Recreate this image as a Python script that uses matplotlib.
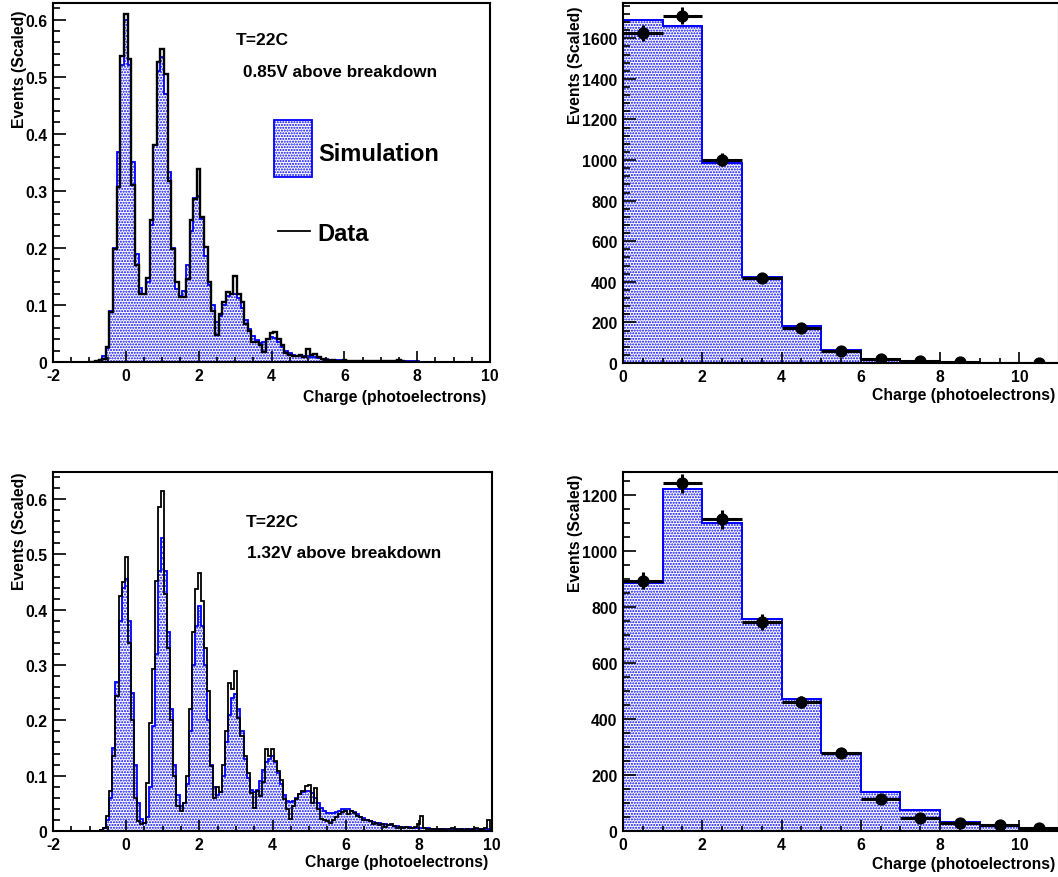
import numpy as np
import matplotlib
matplotlib.use('Agg')
import matplotlib.pyplot as plt
from matplotlib.patches import Rectangle
from matplotlib.lines import Line2D
from matplotlib.ticker import MultipleLocator, FuncFormatter

plt.rcParams['font.family'] = ['Liberation Sans', 'DejaVu Sans']
plt.rcParams['font.weight'] = 'bold'
plt.rcParams['axes.labelweight'] = 'bold'
plt.rcParams['axes.unicode_minus'] = False
plt.rcParams['hatch.color'] = 'blue'
plt.rcParams['hatch.linewidth'] = 1.0

###########################################################
# 0.85V spectrum, 0.1 pe bins, first bin centred on -1.0
###########################################################
start085, width085 = -1.0, 0.1
data085 = [0, 0, 0.001, 0.003, 0.006, 0.026, 0.087, 0.198, 0.306, 0.536,
           0.609, 0.531, 0.31, 0.17, 0.12, 0.12, 0.147, 0.248, 0.38, 0.525,
           0.548, 0.505, 0.318, 0.198, 0.14, 0.114, 0.114, 0.146, 0.248, 0.286,
           0.339, 0.254, 0.201, 0.14, 0.09, 0.047, 0.084, 0.105, 0.122, 0.12,
           0.151, 0.12, 0.105, 0.067, 0.055, 0.035, 0.035, 0.03, 0.017, 0.04,
           0.05, 0.052, 0.04, 0.03, 0.015, 0.013, 0.011, 0.01, 0.012, 0.009,
           0.022, 0.012, 0.014, 0.008, 0.006, 0.004, 0.004, 0.003, 0.002, 0.002,
           0.004, 0.001, 0.002, 0.001, 0.002, 0.001, 0.001, 0.002, 0.001, 0.001,
           0.001, 0.001, 0.002, 0.001, 0.001, 0.003, 0.001, 0, 0, 0,
           0]
sim085 = [0, 0, 0.002, 0.004, 0.01, 0.025, 0.09, 0.2, 0.368, 0.52,
          0.6, 0.52, 0.35, 0.19, 0.13, 0.12, 0.14, 0.24, 0.38, 0.51,
          0.535, 0.47, 0.333, 0.2, 0.128, 0.115, 0.125, 0.17, 0.23, 0.287,
          0.29, 0.25, 0.185, 0.135, 0.1, 0.07, 0.08, 0.1, 0.115, 0.12,
          0.12, 0.112, 0.095, 0.074, 0.058, 0.045, 0.038, 0.034, 0.035, 0.04,
          0.044, 0.042, 0.035, 0.026, 0.019, 0.015, 0.012, 0.011, 0.01, 0.01,
          0.01, 0.009, 0.008, 0.007, 0.006, 0.005, 0.004, 0.004, 0.003, 0.003,
          0.003, 0.002, 0.002, 0.002, 0.002, 0.002, 0.002, 0.002, 0.002, 0.002,
          0.001, 0.001, 0.001, 0.001, 0.001, 0.001, 0.001, 0.001, 0.001, 0.001,
          0.001]

###########################################################
# 1.32V spectrum, 1/12 pe bins, first bin centred on -8/12
###########################################################
start132, width132 = -8.0 / 12, 1.0 / 12
data132 = [0.001, 0.006,
           0.027, 0.073, 0.135, 0.244, 0.425, 0.45, 0.495, 0.34, 0.2, 0.06, 0.018, 0.012,
           0.015, 0.087, 0.196, 0.293, 0.452, 0.585, 0.615, 0.428, 0.33, 0.2, 0.1, 0.045,
           0.036, 0.05, 0.1, 0.22, 0.36, 0.437, 0.466, 0.416, 0.33, 0.253, 0.118, 0.06,
           0.08, 0.07, 0.12, 0.18, 0.268, 0.256, 0.289, 0.205, 0.172, 0.135, 0.105, 0.069,
           0.042, 0.072, 0.063, 0.088, 0.148, 0.135, 0.148, 0.127, 0.108, 0.093, 0.057, 0.04,
           0.022, 0.045, 0.057, 0.066, 0.072, 0.081, 0.084, 0.051, 0.078, 0.04, 0.022, 0.02,
           0.018, 0.015, 0.02, 0.025, 0.03, 0.035, 0.036, 0.03, 0.036, 0.033, 0.027, 0.025,
           0.02, 0.02, 0.018, 0.013, 0.015, 0.01, 0.012, 0.008, 0.01, 0.012, 0.009, 0.006,
           0.008, 0.006, 0.007, 0.005, 0.006, 0.008, 0.012, 0.028, 0.006, 0.004, 0.004, 0.003,
           0.002, 0.003, 0.004, 0.002, 0.003, 0.005, 0.003, 0.002, 0.004, 0.002, 0.003, 0.002,
           0.003, 0.005, 0.003, 0.004, 0.005, 0.02]
sim132 = [0.001, 0.006,
          0.02, 0.06, 0.15, 0.27, 0.38, 0.44, 0.455, 0.38, 0.25, 0.12, 0.05, 0.022,
          0.015, 0.025, 0.08, 0.19, 0.32, 0.47, 0.53, 0.47, 0.36, 0.22, 0.12, 0.065,
          0.045, 0.05, 0.085, 0.18, 0.3, 0.37, 0.407, 0.37, 0.3, 0.2, 0.12, 0.08,
          0.065, 0.07, 0.1, 0.16, 0.21, 0.24, 0.247, 0.22, 0.18, 0.13, 0.095, 0.075,
          0.07, 0.075, 0.09, 0.11, 0.125, 0.13, 0.136, 0.125, 0.105, 0.085, 0.065, 0.055,
          0.052, 0.055, 0.06, 0.066, 0.07, 0.073, 0.072, 0.068, 0.06, 0.05, 0.042, 0.036,
          0.033, 0.032, 0.033, 0.035, 0.037, 0.039, 0.04, 0.039, 0.037, 0.034, 0.03, 0.026,
          0.023, 0.02, 0.018, 0.016, 0.015, 0.014, 0.013, 0.012, 0.011, 0.01, 0.009, 0.009,
          0.008, 0.008, 0.007, 0.007, 0.006, 0.006, 0.006, 0.005, 0.005, 0.005, 0.004, 0.004,
          0.004, 0.004, 0.004, 0.004, 0.004, 0.004, 0.003, 0.003, 0.003, 0.003, 0.003, 0.003,
          0.003, 0.003, 0.003, 0.003, 0.003, 0.003]

###########################################################
# integrated photoelectron counts, 1 pe bins from 0 to 11
###########################################################
pe_edges = np.arange(0, 12)
simcnt085 = [1692, 1662, 984, 422, 184, 64, 20, 8, 3, 1, 0.5]
datcnt085 = [1626, 1712, 1002, 419, 172, 61, 20, 8, 3, 0, 1]
errcnt085 = [40, 41, 32, 20, 13, 8, 4.5, 3, 2, 0, 1]
simcnt132 = [888, 1222, 1100, 757, 473, 280, 139, 74, 32, 18, 12]
datcnt132 = [894, 1242, 1114, 747, 462, 280, 113, 48, 30, 20, 12]
errcnt132 = [30, 35, 33, 27, 21, 17, 11, 7, 5.5, 4.5, 3.5]

W, H = 1058, 878
fig = plt.figure(figsize=(W / 100., H / 100.), dpi=100)

def px_rect(l, t, r, b):
    return [l / W, 1 - b / H, (r - l) / W, (b - t) / H]

fmt = FuncFormatter(lambda v, p: '%g' % v)

def root_style(ax, xmaj, xmin, ymaj, ymin):
    ax.xaxis.set_major_locator(MultipleLocator(xmaj))
    ax.xaxis.set_minor_locator(MultipleLocator(xmin))
    ax.yaxis.set_major_locator(MultipleLocator(ymaj))
    ax.yaxis.set_minor_locator(MultipleLocator(ymin))
    ax.xaxis.set_major_formatter(fmt)
    ax.yaxis.set_major_formatter(fmt)
    ax.tick_params(which='both', direction='in', top=False, right=False, width=1.2, labelsize=11.3)
    ax.tick_params(axis='x', which='major', length=7.8, pad=4)
    ax.tick_params(axis='x', which='minor', length=3.9)
    ax.tick_params(axis='y', which='major', length=9.4, pad=4)
    ax.tick_params(axis='y', which='minor', length=4.7)
    for s in ax.spines.values():
        s.set_linewidth(1.5)

def spectrum(ax, start, width, sim, data, data_lw):
    edges = start - width / 2 + width * np.arange(len(sim) + 1)
    ax.stairs(sim, edges, fill=True, hatch='......', facecolor='white', edgecolor='blue', lw=0)
    ax.stairs(sim, edges, color='blue', lw=1.3)
    ax.stairs(data, edges, color='black', lw=data_lw)

def counts(ax, sim, data, err):
    ax.stairs(sim, pe_edges, fill=True, hatch='......', facecolor='white', edgecolor='blue', lw=0)
    ax.stairs(sim, pe_edges, color='blue', lw=1.4)
    centres = pe_edges[:-1] + 0.5
    data = np.array(data, dtype=float)
    ax.errorbar(centres, data, xerr=0.5, yerr=err, fmt='none', ecolor='black', elinewidth=2.2, capsize=0)
    ok = data > 0
    ax.plot(centres[ok], data[ok], 'o', color='black', ms=7.8)

def titles(ax, ylab_dx, ylab_top, xlab_right, xlab_top, axw, axh):
    # ROOT puts both axis titles flush with the far end of the axis
    ax.set_ylabel('Events (Scaled)', fontsize=11.3, fontweight='bold', loc='top')
    ax.yaxis.set_label_coords(-ylab_dx / axw, 1 - ylab_top / axh)
    ax.set_xlabel('Charge (photoelectrons)', fontsize=11.3, fontweight='bold', loc='right')
    ax.xaxis.set_label_coords(xlab_right / axw, -xlab_top / axh)

# ---- top left
ax = fig.add_axes(px_rect(53, 4, 490, 363))
spectrum(ax, start085, width085, sim085, data085, 1.7)
ax.set_xlim(-2, 10)
ax.set_ylim(0, 0.629)
root_style(ax, 2, 0.5, 0.1, 0.02)
titles(ax, 26, 6, 433, 27, 437., 359.)
ax.text(0.419, 0.897, 'T=22C', transform=ax.transAxes, fontsize=12.5, va='center', ha='left')
ax.text(0.435, 0.808, '0.85V above breakdown', transform=ax.transAxes, fontsize=12.3, va='center', ha='left')
ax.add_patch(Rectangle((0.506, 0.515), 0.087, 0.159, transform=ax.transAxes, hatch='......',
                       facecolor='white', edgecolor='blue', lw=1.3))
ax.text(0.606, 0.582, 'Simulation', transform=ax.transAxes, fontsize=17, va='center', ha='left')
ax.add_line(Line2D([0.515, 0.588], [0.365, 0.365], transform=ax.transAxes, color='black', lw=1.3))
ax.text(0.606, 0.359, 'Data', transform=ax.transAxes, fontsize=17, va='center', ha='left')

# ---- top right
ax = fig.add_axes(px_rect(623, 4, 1059, 364))
counts(ax, simcnt085, datcnt085, errcnt085)
ax.set_xlim(0, 11)
ax.set_ylim(0, 1774)
root_style(ax, 2, 0.5, 200, 40)
titles(ax, 40, 3, 432, 24, 436., 360.)

# ---- bottom left
ax = fig.add_axes(px_rect(53, 473, 492, 832))
spectrum(ax, start132, width132, sim132, data132, 1.3)
ax.set_xlim(-2, 10)
ax.set_ylim(0, 0.649)
root_style(ax, 2, 0.5, 0.1, 0.02)
titles(ax, 26, 0, 435, 23, 439., 359.)
ax.text(0.44, 0.863, 'T=22C', transform=ax.transAxes, fontsize=12.5, va='center', ha='left')
ax.text(0.442, 0.776, '1.32V above breakdown', transform=ax.transAxes, fontsize=12.3, va='center', ha='left')

# ---- bottom right
ax = fig.add_axes(px_rect(623, 473, 1059, 832))
counts(ax, simcnt132, datcnt132, errcnt132)
ax.set_xlim(0, 11)
ax.set_ylim(0, 1283)
root_style(ax, 2, 0.5, 200, 50)
titles(ax, 40, 2, 432, 25, 436., 359.)

fig.savefig('out.png', dpi=100)
